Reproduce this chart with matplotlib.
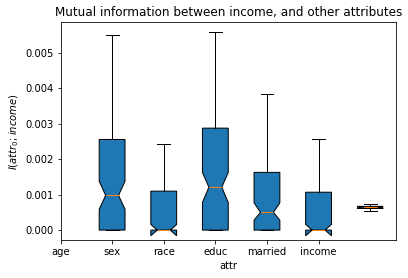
import matplotlib
matplotlib.use("Agg")
import matplotlib.pyplot as plt

# attribute labels (as drawn on the x axis)
attrs = ["age", "sex", "race", "educ", "married", "income"]

# box statistics (one entry per box)
q1 = [0.0, 0.0, 0.0, 0.0, 0.0, 0.00061]
med = [0.00098, 0.0, 0.00121, 0.0005, 0.0, 0.00065]
q3 = [0.00256, 0.0011, 0.00288, 0.00163, 0.00107, 0.00067]
whislo = [0.0, 0.0, 0.0, 0.0, 0.0, 0.00054]
whishi = [0.00551, 0.00242, 0.00559, 0.00384, 0.00256, 0.00073]
cilo = [0.00059, -0.00016, 0.00078, 0.00028, -0.00016, 0.00063]
cihi = [0.00138, 0.00016, 0.00163, 0.00077, 0.00016, 0.00067]

stats = []
for i in range(len(med)):
    stats.append({"med": med[i], "q1": q1[i], "q3": q3[i],
                  "whislo": whislo[i], "whishi": whishi[i],
                  "cilo": cilo[i], "cihi": cihi[i], "fliers": []})

fig = plt.figure(figsize=(408 / 72, 278 / 72), dpi=72)
ax = fig.add_axes([60.5 / 408, 1 - 240 / 278, 335.5 / 408, (240 - 22.3) / 278])

ax.bxp(stats, shownotches=True, patch_artist=True)
ax.set_xticks(range(len(attrs)))
ax.set_xticklabels(attrs)
ax.set_xlim(0, 6.5)
ax.set_ylim(-0.00028, 0.00587)

ax.set_title("Mutual information between income, and other attributes")
ax.set_xlabel("attr")
ax.set_ylabel("$I(attr_0; income)$")

fig.savefig("out.png", dpi=72)
